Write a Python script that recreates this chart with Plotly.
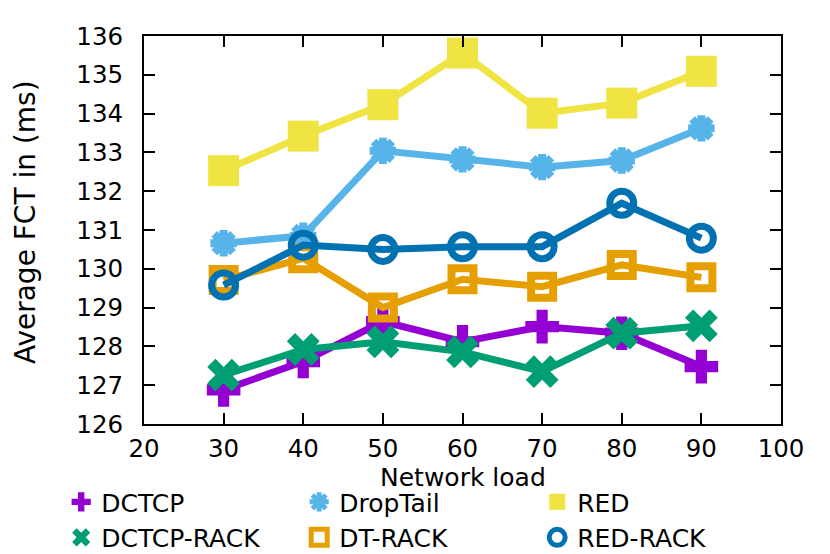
import plotly.graph_objects as go

load = [30, 40, 50, 60, 70, 80, 90]

dctcp = [126.88, 127.61, 128.64, 128.12, 128.51, 128.34, 127.48]
dctcp_rack = [127.26, 127.92, 128.12, 127.86, 127.35, 128.34, 128.53]
droptail = [130.66, 130.85, 133.04, 132.82, 132.62, 132.79, 133.62]
dt_rack = [129.71, 130.27, 129.00, 129.73, 129.54, 130.10, 129.78]
red = [132.53, 133.42, 134.23, 135.56, 134.01, 134.27, 135.09]
red_rack = [129.58, 130.61, 130.50, 130.57, 130.57, 131.69, 130.79]

x_ticks = [20, 30, 40, 50, 60, 70, 80, 90, 100]
y_ticks = [126, 127, 128, 129, 130, 131, 132, 133, 134, 135, 136]

FONT = "DejaVu Sans"

series = [
    # name, values, color, symbol, size, marker line width, legend rank
    ("DCTCP", dctcp, "#9400D3", "cross", 28, 0, 1),
    ("DCTCP-RACK", dctcp_rack, "#009E73", "x", 29, 0, 4),
    ("DropTail", droptail, "#56B4E9", "asterisk-open", 22, 8, 2),
    ("DT-RACK", dt_rack, "#E69F00", "square-open", 22, 8, 5),
    ("RED", red, "#F0E442", "square", 31, 0, 3),
    ("RED-RACK", red_rack, "#0072B2", "circle-open", 24, 7, 6),
]

fig = go.Figure()
for name, vals, color, sym, size, lw, rank in series:
    mk = dict(symbol=sym, size=size, color=color,
              line=dict(color=color, width=lw))
    fig.add_trace(go.Scatter(
        x=load, y=vals, mode="lines+markers", name=name,
        line=dict(color=color, width=7), marker=mk,
        showlegend=False, cliponaxis=False,
    ))
for name, vals, color, sym, size, lw, rank in series:
    mk = dict(symbol=sym, size=size, color=color,
              line=dict(color=color, width=min(lw, 5)))
    fig.add_trace(go.Scatter(
        x=[None], y=[None], mode="markers", name=name,
        marker=mk, showlegend=True, legendrank=rank,
    ))

fig.update_layout(
    width=822, height=546,
    margin=dict(l=136, r=49, t=28, b=130, autoexpand=False),
    plot_bgcolor="white", paper_bgcolor="white",
    font=dict(family=FONT, size=26, color="black"),
    legend=dict(
        orientation="h", x=-0.13, xanchor="left", y=-0.142, yanchor="top",
        entrywidth=193, entrywidthmode="pixels",
        font=dict(size=25), itemsizing="trace", tracegroupgap=0,
        bgcolor="rgba(0,0,0,0)",
    ),
    annotations=[
        dict(text="Network load", xref="paper", yref="paper",
             x=0.5, y=-0.138, xanchor="center", yanchor="middle",
             showarrow=False, font=dict(size=25)),
        dict(text="Average FCT in (ms)", xref="paper", yref="paper",
             x=-0.187, y=0.52, xanchor="center", yanchor="middle",
             textangle=-90, showarrow=False, font=dict(size=28)),
    ],
)
fig.update_xaxes(
    range=[20, 100], tickvals=x_ticks, ticktext=[str(v) for v in x_ticks],
    ticks="inside", ticklen=11, tickwidth=2, tickcolor="black",
    showline=True, linecolor="black", linewidth=2, mirror="ticks",
    showgrid=False, zeroline=False, ticklabelstandoff=2,
    tickfont=dict(size=24.5),
)
fig.update_yaxes(
    range=[126, 136], tickvals=y_ticks, ticktext=[str(v) for v in y_ticks],
    ticks="inside", ticklen=11, tickwidth=2, tickcolor="black",
    showline=True, linecolor="black", linewidth=2, mirror="ticks",
    showgrid=False, zeroline=False, ticklabelstandoff=14,
    tickfont=dict(size=24.5),
)

fig.write_html("out.html")
